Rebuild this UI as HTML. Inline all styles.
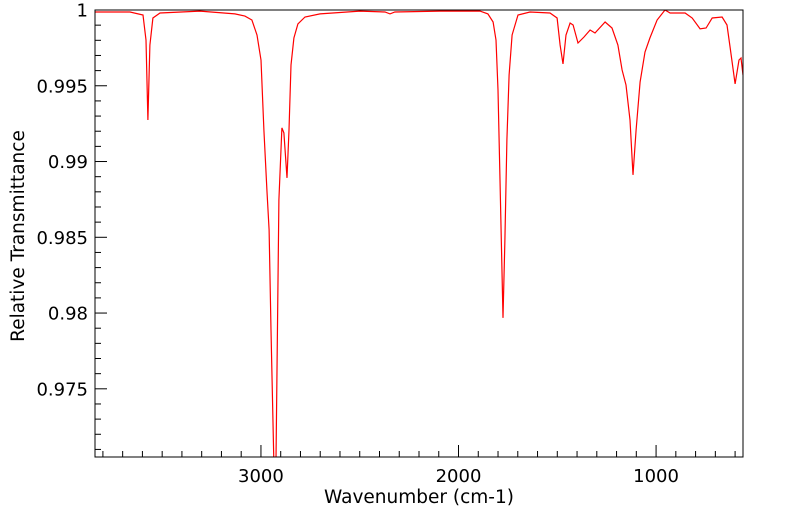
<!DOCTYPE html>
<html><head><meta charset="utf-8"><style>
body{margin:0;background:#fff}
svg{display:block;font-family:"DejaVu Sans","Liberation Sans",sans-serif}
</style></head><body>
<svg id="chart" width="799" height="516" viewBox="0 0 799 516" xmlns="http://www.w3.org/2000/svg">
<defs><clipPath id="pc"><rect x="95" y="10" width="648" height="447"/></clipPath></defs>
<rect x="0" y="0" width="799" height="516" fill="#fff"/>
<g id="ticks"></g>
<path id="spectrum" fill="none" stroke="#ff0000" stroke-width="1.2" clip-path="url(#pc)"/>
<rect x="95" y="10" width="648" height="447" fill="none" stroke="#000" stroke-width="1"/>
<text transform="translate(24,236) rotate(-90)" text-anchor="middle" font-size="18.5">Relative Transmittance</text>
<text x="419" y="503" text-anchor="middle" font-size="18.5">Wavenumber (cm-1)</text>
</svg>
<script>
const wavenumbers=[3840,3663,3597,3582,3572,3562,3547,3511,3309,3132,3081,3046,3020,3000,2985,2970,2959,2949,2934,2924,2909,2894,2884,2868,2858,2848,2833,2813,2777,2701,2499,2372,2347,2322,2094,1891,1851,1825,1810,1800,1790,1775,1765,1755,1744,1729,1699,1638,1537,1501,1486,1471,1456,1435,1420,1395,1365,1334,1309,1258,1223,1193,1172,1152,1132,1117,1101,1081,1056,1031,995,955,929,853,817,777,747,716,666,641,625,600,580,570,560];
const transmittance=[0.99987,0.99987,0.99967,0.99802,0.99274,0.99769,0.99947,0.9998,0.99993,0.99974,0.9996,0.99934,0.99835,0.9967,0.99208,0.98813,0.98549,0.97889,0.9697,0.97032,0.98747,0.99222,0.99189,0.98892,0.99208,0.99637,0.99815,0.99908,0.99954,0.99974,0.99993,0.99987,0.99974,0.99987,0.99993,0.99993,0.99974,0.99921,0.99802,0.99472,0.98879,0.97968,0.98483,0.99143,0.99571,0.99835,0.99967,0.99987,0.9998,0.99947,0.99769,0.99644,0.99835,0.99914,0.99901,0.99782,0.99822,0.99868,0.99848,0.99921,0.99881,0.99769,0.99604,0.99505,0.99274,0.98912,0.99208,0.99525,0.99723,0.99815,0.99934,1.0,0.9998,0.9998,0.99947,0.99875,0.99881,0.99947,0.99954,0.99901,0.99749,0.99512,0.9967,0.99683,0.99571];
const xTickLabels=[3000,2000,1000];
const yTickLabels=[1,0.995,0.99,0.985,0.98,0.975];
const X0=95,X1=743,Y0=10,Y1=457,WMAX=3840,WMIN=560,TMAX=1,TMIN=0.9705;
const xs=w=>X0+(WMAX-w)/(WMAX-WMIN)*(X1-X0);
const ys=t=>Y0+(TMAX-t)/(TMAX-TMIN)*(Y1-Y0);
const NS="http://www.w3.org/2000/svg";
let d="";
for(let i=0;i<wavenumbers.length;i++){d+=(i?"L":"M")+xs(wavenumbers[i]).toFixed(1)+","+ys(transmittance[i]).toFixed(1);}
document.getElementById("spectrum").setAttribute("d",d);
const g=document.getElementById("ticks");
function line(x1,y1,x2,y2){const l=document.createElementNS(NS,"line");l.setAttribute("x1",x1);l.setAttribute("y1",y1);l.setAttribute("x2",x2);l.setAttribute("y2",y2);l.setAttribute("stroke","#000");


g.appendChild(l);}
function text(x,y,s,anchor,name){const t=document.createElementNS(NS,"text");t.setAttribute("x",x);t.setAttribute("y",y);t.setAttribute("text-anchor",anchor);t.setAttribute("font-size","18");t.textContent=s;


g.appendChild(t);}
for(let w=3800;w>=600;w-=100){const x=xs(w);const major=w%1000===0;line(x,Y1,x,Y1-(major?12:6));}
xTickLabels.forEach(v=>text(xs(v),482,String(v),"middle","x-tick-label"));
for(let k=0;k<=29;k++){const t=1-k*0.001;const y=ys(t);if(y>Y1)break;const major=k%5===0;line(X0,y,X0+(major?12:6),y);}
yTickLabels.forEach(v=>text(88,ys(v)+6.5,String(v),"end","y-tick-label"));
</script>
</body></html>
